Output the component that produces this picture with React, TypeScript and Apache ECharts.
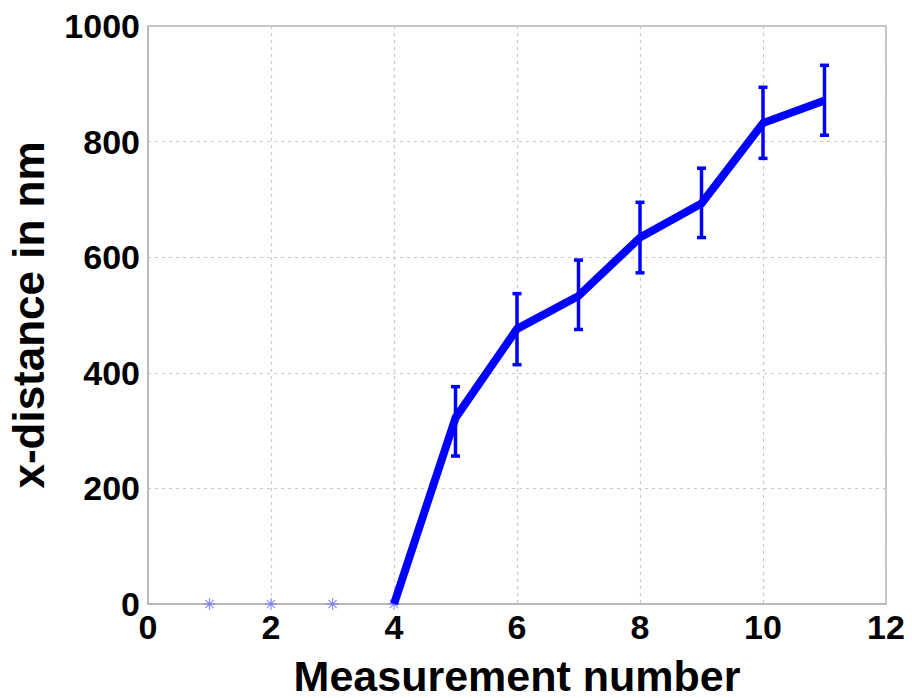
import React, { useEffect, useRef } from "react";
import * as echarts from "echarts";

const measurement = [4, 5, 6, 7, 8, 9, 10, 11];
const distance = [0, 322, 476, 533, 634, 693, 832, 871];
const errLow = [0, 256, 414, 475, 573, 634, 771, 811];
const errHigh = [0, 376, 537, 595, 695, 754, 894, 932];
const zeroPoints = [1, 2, 3, 4];
const xTicks = [0, 2, 4, 6, 8, 10, 12];
const yTicks = [0, 200, 400, 600, 800, 1000];

const FONT = "'Liberation Sans', Arial, sans-serif";

export default function App() {
  const ref = useRef<HTMLDivElement>(null);
  useEffect(() => {
    if (!ref.current) return;
    const chart = echarts.init(ref.current, undefined, { renderer: "svg" });
    const errData = measurement
      .map((m, i) => [m, errLow[i], errHigh[i]])
      .filter((d) => d[2] > d[1]);
    chart.setOption({
      animation: false,
      backgroundColor: "#ffffff",
      grid: {
        left: 148,
        right: 26,
        top: 26,
        bottom: 94,
        containLabel: false,
        outerBoundsMode: "none",
        show: true,
        borderColor: "#b4b4b4",
        borderWidth: 1.5,
        backgroundColor: "transparent",
      },
      xAxis: {
        type: "value",
        min: xTicks[0],
        max: xTicks[xTicks.length - 1],
        interval: 2,
        name: "Measurement number",
        nameLocation: "middle",
        nameGap: 50,
        nameTextStyle: { fontFamily: FONT, fontWeight: "bold", fontSize: 43, color: "#000" },
        axisLine: { show: true, lineStyle: { color: "#b4b4b4", width: 1.5 } },
        axisTick: { show: false },
        axisLabel: { fontFamily: FONT, fontWeight: "bold", fontSize: 34, color: "#000", margin: 6 },
        splitLine: { show: true, lineStyle: { color: "#c8c8c8", type: [3, 4], width: 1.2 } },
      },
      yAxis: {
        type: "value",
        min: yTicks[0],
        max: yTicks[yTicks.length - 1],
        interval: 200,
        name: "x-distance in nm",
        nameLocation: "middle",
        nameGap: 98,
        nameTextStyle: { fontFamily: FONT, fontWeight: "bold", fontSize: 44, color: "#000" },
        axisLine: { show: true, lineStyle: { color: "#b4b4b4", width: 1.5 } },
        axisTick: { show: false },
        axisLabel: {
          fontFamily: FONT,
          fontWeight: "bold",
          fontSize: 34,
          color: "#000",
          margin: 8,
          formatter: (v: number) => String(v),
        },
        splitLine: { show: true, lineStyle: { color: "#c8c8c8", type: [3, 4], width: 1.2 } },
      },
      series: [
        {
          type: "scatter",
          data: zeroPoints.map((x) => [x, 0]),
          symbol: "path://M0,5L10,5M5,0L5,10M1.5,1.5L8.5,8.5M8.5,1.5L1.5,8.5",
          symbolSize: 12,
          itemStyle: { color: "none", borderColor: "#7070ff", borderWidth: 1.2 },
          z: 2,
        },
        {
          type: "line",
          data: measurement.map((m, i) => [m, distance[i]]),
          showSymbol: false,
          lineStyle: { color: "#0000ff", width: 8, join: "round" },
          itemStyle: { color: "#0000ff" },
          z: 3,
        },
        {
          type: "custom",
          data: errData,
          z: 4,
          renderItem: (params: any, api: any) => {
            const x = api.value(0);
            const lo = api.coord([x, api.value(1)]);
            const hi = api.coord([x, api.value(2)]);
            const cap = 4.5;
            const style = { stroke: "#0000ff", lineWidth: 3.5 };
            return {
              type: "group",
              children: [
                { type: "line", shape: { x1: lo[0], y1: lo[1], x2: hi[0], y2: hi[1] }, style },
                { type: "line", shape: { x1: hi[0] - cap, y1: hi[1], x2: hi[0] + cap, y2: hi[1] }, style },
                { type: "line", shape: { x1: lo[0] - cap, y1: lo[1], x2: lo[0] + cap, y2: lo[1] }, style },
              ],
            };
          },
        },
      ],
    });
    return () => chart.dispose();
  }, []);
  return <div ref={ref} style={{ width: 912, height: 698, position: "absolute", left: 0, top: 0 }} />;
}
